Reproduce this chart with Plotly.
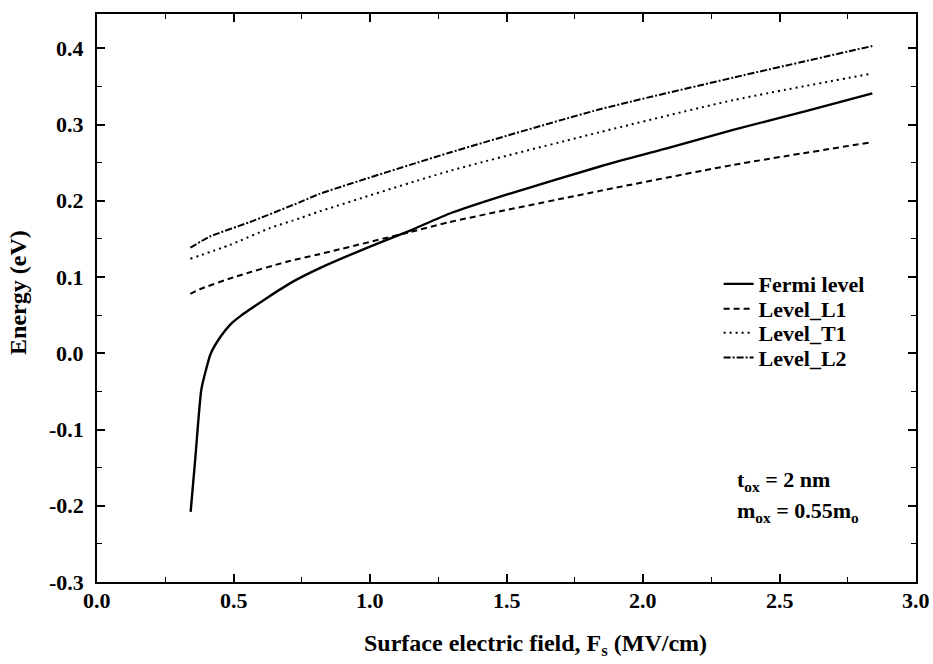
import plotly.graph_objects as go

# Energy levels vs. surface electric field (t_ox = 2 nm, m_ox = 0.55 m0)
fermi_f = [0.343, 0.360, 0.382, 0.399, 0.417, 0.453, 0.489, 0.530, 0.562, 0.620,
           0.708, 0.818, 1.000, 1.147, 1.290, 1.500, 1.842, 2.100, 2.330, 2.600, 2.840]
fermi_e = [-0.208, -0.138, -0.048, -0.022, 0.000, 0.022, 0.038, 0.050, 0.058, 0.072,
           0.092, 0.112, 0.140, 0.161, 0.183, 0.208, 0.245, 0.270, 0.293, 0.318, 0.341]

l1_f = [0.342, 0.376, 0.512, 0.695, 0.815, 1.147, 1.290, 1.842, 2.330, 2.840]
l1_e = [0.078, 0.084, 0.101, 0.120, 0.130, 0.159, 0.172, 0.213, 0.247, 0.277]

t1_f = [0.342, 0.486, 0.632, 0.742, 0.815, 1.290, 1.842, 2.330, 2.840]
t1_e = [0.124, 0.142, 0.164, 0.177, 0.186, 0.239, 0.290, 0.332, 0.367]

l2_f = [0.342, 0.413, 0.559, 0.742, 0.815, 1.290, 1.842, 2.330, 2.840]
l2_e = [0.1385, 0.153, 0.172, 0.198, 0.209, 0.263, 0.320, 0.3615, 0.403]

series_names = ["Fermi level", "Level_L1", "Level_T1", "Level_L2"]
x_ticks = [0.0, 0.5, 1.0, 1.5, 2.0, 2.5, 3.0]
y_ticks = [-0.3, -0.2, -0.1, 0.0, 0.1, 0.2, 0.3, 0.4]
x_title = "Surface electric field, F<sub>s</sub> (MV/cm)"
y_title = "Energy (eV)"

FONT = "Liberation Serif"


def bold(size):
    return dict(family=FONT, size=size, color="black", weight="bold")


fig = go.Figure()
styles = [
    (fermi_f, fermi_e, "solid", 2.4),
    (l1_f, l1_e, "6px,4px", 2.0),
    (t1_f, t1_e, "2px,4px", 2.0),
    (l2_f, l2_e, "7px,2px,2px,2px", 2.0),
]
# one small legend per series so the rows can sit closely stacked
legend_ids = ["legend", "legend2", "legend3", "legend4"]
legend_rows = [0.5246, 0.4807, 0.4386, 0.3947]

for name, (xs, ys, dash, w), lid in zip(series_names, styles, legend_ids):
    fig.add_trace(go.Scatter(
        x=xs, y=ys, mode="lines", name=name, legend=lid,
        line=dict(color="black", width=w, dash=dash, shape="spline", smoothing=0.6),
    ))

axis_common = dict(
    showgrid=False, zeroline=False, showline=True, linecolor="black", linewidth=2,
    mirror="ticks", ticks="inside", ticklen=8, tickwidth=1.5, tickcolor="black",
    showticklabels=False,
)

layout_legends = {}
for lid, ry in zip(legend_ids, legend_rows):
    layout_legends[lid] = dict(
        x=0.759, y=ry, xanchor="left", yanchor="middle",
        bgcolor="rgba(0,0,0,0)", borderwidth=0, font=bold(22), itemwidth=30,
    )

fig.update_layout(
    width=933, height=664,
    margin=dict(l=97, r=17, t=12, b=82),
    paper_bgcolor="white", plot_bgcolor="white",
    showlegend=True,
    xaxis=dict(
        range=[0, 3.0], tickmode="array", tickvals=x_ticks,
        minor=dict(ticks="inside", ticklen=5, tickwidth=1.2, tickcolor="black", dtick=0.25),
        **axis_common,
    ),
    yaxis=dict(
        range=[-0.3, 0.445], tickmode="array", tickvals=y_ticks,
        minor=dict(ticks="inside", ticklen=5, tickwidth=1.2, tickcolor="black",
                   tick0=-0.3, dtick=0.05),
        **axis_common,
    ),
    **layout_legends,
)

# bold tick labels placed at the tick values
for v in x_ticks:
    fig.add_annotation(
        x=v, y=0, xref="x", yref="paper", xanchor="center", yanchor="top",
        yshift=-4, text=f"{v:.1f}", showarrow=False, font=bold(22),
    )
for v in y_ticks:
    fig.add_annotation(
        x=0, y=v, xref="paper", yref="y", xanchor="right", yanchor="middle",
        xshift=-11, text=f"{v:.1f}", showarrow=False, font=bold(22),
    )

# axis titles
fig.add_annotation(
    x=0.5354, y=0, xref="paper", yref="paper", xanchor="center", yanchor="middle",
    yshift=-63, text=x_title, showarrow=False, font=bold(24),
)
fig.add_annotation(
    x=0, y=0.509, xref="paper", yref="paper", xanchor="center", yanchor="middle",
    xshift=-79, textangle=-90, text=y_title, showarrow=False, font=bold(24),
)

fig.add_annotation(
    x=0.779, y=0.177, xref="paper", yref="paper", xanchor="left", yanchor="middle",
    text="t<sub>ox</sub> = 2 nm", showarrow=False, font=bold(22),
)
fig.add_annotation(
    x=0.779, y=0.123, xref="paper", yref="paper", xanchor="left", yanchor="middle",
    text="m<sub>ox</sub> = 0.55m<sub>o</sub>", showarrow=False, font=bold(22),
)

fig.write_html("out.html")
